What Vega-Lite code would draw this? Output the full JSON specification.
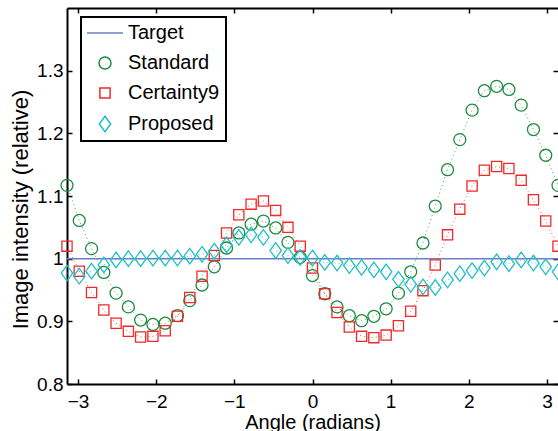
{
  "$schema": "https://vega.github.io/schema/vega-lite/v6.json",
  "width": 491,
  "height": 376,
  "autosize": {"type": "none"},
  "padding": {"left": 67, "top": 8, "right": 0, "bottom": 47},
  "background": "white",
  "config": {
    "font": "Liberation Sans",
    "view": {"stroke": null},
    "axis": {
      "domainColor": "black", "domainWidth": 2,
      "tickColor": "black", "tickWidth": 1.5, "tickSize": -5,
      "labelColor": "black", "labelFont": "Liberation Sans", "labelFontSize": 19,
      "titleFont": "Liberation Sans", "titleColor": "black", "titleFontWeight": "normal",
      "grid": false
    },
    "legend": {
      "orient": "none", "legendX": 14, "legendY": 9,
      "padding": 6, "strokeColor": "black", "strokeWidth": 2, "fillColor": "white",
      "labelFont": "Liberation Sans", "labelFontSize": 20, "labelColor": "black",
      "symbolStrokeWidth": 1.5, "symbolSize": 144, "symbolOffset": 8, "labelOffset": 13,
      "rowPadding": 10, "columns": 1, "titleFontSize": 0
    }
  },
  "datasets": {
    "d": [
      {"x": -3.14159, "series": "Target", "y": 1},
      {"x": 3.14159, "series": "Target", "y": 1},
      {"x": -3.1416, "series": "Standard", "y": 1.117},
      {"x": -2.9845, "series": "Standard", "y": 1.061},
      {"x": -2.8274, "series": "Standard", "y": 1.016},
      {"x": -2.6704, "series": "Standard", "y": 0.978},
      {"x": -2.5133, "series": "Standard", "y": 0.945},
      {"x": -2.3562, "series": "Standard", "y": 0.923},
      {"x": -2.1991, "series": "Standard", "y": 0.902},
      {"x": -2.042, "series": "Standard", "y": 0.895},
      {"x": -1.885, "series": "Standard", "y": 0.897},
      {"x": -1.7279, "series": "Standard", "y": 0.909},
      {"x": -1.5708, "series": "Standard", "y": 0.933},
      {"x": -1.4137, "series": "Standard", "y": 0.958},
      {"x": -1.2566, "series": "Standard", "y": 0.987},
      {"x": -1.0996, "series": "Standard", "y": 1.017},
      {"x": -0.9425, "series": "Standard", "y": 1.041},
      {"x": -0.7854, "series": "Standard", "y": 1.055},
      {"x": -0.6283, "series": "Standard", "y": 1.06},
      {"x": -0.4712, "series": "Standard", "y": 1.049},
      {"x": -0.3142, "series": "Standard", "y": 1.026},
      {"x": -0.1571, "series": "Standard", "y": 1.002},
      {"x": 0, "series": "Standard", "y": 0.973},
      {"x": 0.1571, "series": "Standard", "y": 0.944},
      {"x": 0.3142, "series": "Standard", "y": 0.923},
      {"x": 0.4712, "series": "Standard", "y": 0.909},
      {"x": 0.6283, "series": "Standard", "y": 0.901},
      {"x": 0.7854, "series": "Standard", "y": 0.908},
      {"x": 0.9425, "series": "Standard", "y": 0.92},
      {"x": 1.0996, "series": "Standard", "y": 0.945},
      {"x": 1.2566, "series": "Standard", "y": 0.979},
      {"x": 1.4137, "series": "Standard", "y": 1.025},
      {"x": 1.5708, "series": "Standard", "y": 1.084},
      {"x": 1.7279, "series": "Standard", "y": 1.142},
      {"x": 1.885, "series": "Standard", "y": 1.19},
      {"x": 2.042, "series": "Standard", "y": 1.237},
      {"x": 2.1991, "series": "Standard", "y": 1.268},
      {"x": 2.3562, "series": "Standard", "y": 1.275},
      {"x": 2.5133, "series": "Standard", "y": 1.27},
      {"x": 2.6704, "series": "Standard", "y": 1.245},
      {"x": 2.8274, "series": "Standard", "y": 1.206},
      {"x": 2.9845, "series": "Standard", "y": 1.165},
      {"x": 3.1416, "series": "Standard", "y": 1.117},
      {"x": -3.1416, "series": "Certainty9", "y": 1.02},
      {"x": -2.9845, "series": "Certainty9", "y": 0.98},
      {"x": -2.8274, "series": "Certainty9", "y": 0.946},
      {"x": -2.6704, "series": "Certainty9", "y": 0.918},
      {"x": -2.5133, "series": "Certainty9", "y": 0.897},
      {"x": -2.3562, "series": "Certainty9", "y": 0.884},
      {"x": -2.1991, "series": "Certainty9", "y": 0.875},
      {"x": -2.042, "series": "Certainty9", "y": 0.876},
      {"x": -1.885, "series": "Certainty9", "y": 0.885},
      {"x": -1.7279, "series": "Certainty9", "y": 0.908},
      {"x": -1.5708, "series": "Certainty9", "y": 0.938},
      {"x": -1.4137, "series": "Certainty9", "y": 0.972},
      {"x": -1.2566, "series": "Certainty9", "y": 1.005},
      {"x": -1.0996, "series": "Certainty9", "y": 1.041},
      {"x": -0.9425, "series": "Certainty9", "y": 1.07},
      {"x": -0.7854, "series": "Certainty9", "y": 1.087},
      {"x": -0.6283, "series": "Certainty9", "y": 1.092},
      {"x": -0.4712, "series": "Certainty9", "y": 1.077},
      {"x": -0.3142, "series": "Certainty9", "y": 1.05},
      {"x": -0.1571, "series": "Certainty9", "y": 1.02},
      {"x": 0, "series": "Certainty9", "y": 0.985},
      {"x": 0.1571, "series": "Certainty9", "y": 0.944},
      {"x": 0.3142, "series": "Certainty9", "y": 0.914},
      {"x": 0.4712, "series": "Certainty9", "y": 0.891},
      {"x": 0.6283, "series": "Certainty9", "y": 0.876},
      {"x": 0.7854, "series": "Certainty9", "y": 0.874},
      {"x": 0.9425, "series": "Certainty9", "y": 0.878},
      {"x": 1.0996, "series": "Certainty9", "y": 0.893},
      {"x": 1.2566, "series": "Certainty9", "y": 0.916},
      {"x": 1.4137, "series": "Certainty9", "y": 0.949},
      {"x": 1.5708, "series": "Certainty9", "y": 0.99},
      {"x": 1.7279, "series": "Certainty9", "y": 1.038},
      {"x": 1.885, "series": "Certainty9", "y": 1.079},
      {"x": 2.042, "series": "Certainty9", "y": 1.116},
      {"x": 2.1991, "series": "Certainty9", "y": 1.141},
      {"x": 2.3562, "series": "Certainty9", "y": 1.147},
      {"x": 2.5133, "series": "Certainty9", "y": 1.144},
      {"x": 2.6704, "series": "Certainty9", "y": 1.125},
      {"x": 2.8274, "series": "Certainty9", "y": 1.094},
      {"x": 2.9845, "series": "Certainty9", "y": 1.06},
      {"x": 3.1416, "series": "Certainty9", "y": 1.02},
      {"x": -3.1416, "series": "Proposed", "y": 0.977},
      {"x": -2.9845, "series": "Proposed", "y": 0.972},
      {"x": -2.8274, "series": "Proposed", "y": 0.98},
      {"x": -2.6704, "series": "Proposed", "y": 0.99},
      {"x": -2.5133, "series": "Proposed", "y": 0.998},
      {"x": -2.3562, "series": "Proposed", "y": 1.0},
      {"x": -2.1991, "series": "Proposed", "y": 1.0},
      {"x": -2.042, "series": "Proposed", "y": 1.001},
      {"x": -1.885, "series": "Proposed", "y": 1.001},
      {"x": -1.7279, "series": "Proposed", "y": 1.001},
      {"x": -1.5708, "series": "Proposed", "y": 1.004},
      {"x": -1.4137, "series": "Proposed", "y": 1.007},
      {"x": -1.2566, "series": "Proposed", "y": 1.012},
      {"x": -1.0996, "series": "Proposed", "y": 1.022},
      {"x": -0.9425, "series": "Proposed", "y": 1.034},
      {"x": -0.7854, "series": "Proposed", "y": 1.038},
      {"x": -0.6283, "series": "Proposed", "y": 1.034},
      {"x": -0.4712, "series": "Proposed", "y": 1.013},
      {"x": -0.3142, "series": "Proposed", "y": 1.005},
      {"x": -0.1571, "series": "Proposed", "y": 1.002},
      {"x": 0, "series": "Proposed", "y": 1.001},
      {"x": 0.1571, "series": "Proposed", "y": 0.994},
      {"x": 0.3142, "series": "Proposed", "y": 0.993},
      {"x": 0.4712, "series": "Proposed", "y": 0.989},
      {"x": 0.6283, "series": "Proposed", "y": 0.986},
      {"x": 0.7854, "series": "Proposed", "y": 0.982},
      {"x": 0.9425, "series": "Proposed", "y": 0.979},
      {"x": 1.0996, "series": "Proposed", "y": 0.967},
      {"x": 1.2566, "series": "Proposed", "y": 0.959},
      {"x": 1.4137, "series": "Proposed", "y": 0.955},
      {"x": 1.5708, "series": "Proposed", "y": 0.954},
      {"x": 1.7279, "series": "Proposed", "y": 0.966},
      {"x": 1.885, "series": "Proposed", "y": 0.976},
      {"x": 2.042, "series": "Proposed", "y": 0.981},
      {"x": 2.1991, "series": "Proposed", "y": 0.985},
      {"x": 2.3562, "series": "Proposed", "y": 0.995},
      {"x": 2.5133, "series": "Proposed", "y": 0.992},
      {"x": 2.6704, "series": "Proposed", "y": 0.998},
      {"x": 2.8274, "series": "Proposed", "y": 0.993},
      {"x": 2.9845, "series": "Proposed", "y": 0.987},
      {"x": 3.1416, "series": "Proposed", "y": 0.979}
    ]
  },
  "data": {"name": "d"},
  "layer": [
    {
      "transform": [{"filter": "datum.series === 'Target'"}],
      "mark": {"type": "line", "color": "#6b7fc6", "strokeWidth": 1.5},
      "encoding": {
        "x": {"field": "x", "type": "quantitative",
              "scale": {"domain": [-3.14159, 3.14159], "nice": false, "zero": false},
              "axis": {"orient": "top", "values": [-3, -2, -1, 0, 1, 2, 3], "labels": false, "title": null}},
        "y": {"field": "y", "type": "quantitative",
              "scale": {"domain": [0.8, 1.4], "nice": false, "zero": false},
              "axis": {"orient": "right", "values": [0.8, 0.9, 1, 1.1, 1.2, 1.3], "labels": false, "title": null, "domain": false}}
      }
    },
    {
      "transform": [{"filter": "datum.series !== 'Target'"}],
      "mark": {"type": "line", "strokeDash": [1, 3], "strokeWidth": 1, "opacity": 0.8},
      "encoding": {
        "x": {"field": "x", "type": "quantitative", "scale": {"domain": [-3.14159, 3.14159], "nice": false, "zero": false}, "axis": null},
        "y": {"field": "y", "type": "quantitative", "scale": {"domain": [0.8, 1.4], "nice": false, "zero": false}, "axis": null},
        "stroke": {"field": "series", "type": "nominal",
                   "scale": {"domain": ["Standard", "Certainty9", "Proposed"], "range": ["#1f8a3f", "#ee2a2a", "#22bfc4"]},
                   "legend": null}
      }
    },
    {
      "transform": [{"filter": "datum.series !== 'Target'"}],
      "mark": {"type": "point", "filled": false, "strokeWidth": 1.3, "size": 144, "opacity": 1},
      "encoding": {
        "x": {"field": "x", "type": "quantitative",
              "scale": {"domain": [-3.14159, 3.14159], "nice": false, "zero": false},
              "axis": {"orient": "bottom", "values": [-3, -2, -1, 0, 1, 2, 3], "labelPadding": 13,
                       "title": "Angle (radians)", "titleFontSize": 20, "titleBaseline": "alphabetic", "titleY": 44}},
        "y": {"field": "y", "type": "quantitative",
              "scale": {"domain": [0.8, 1.4], "nice": false, "zero": false},
              "axis": {"orient": "left", "values": [0.8, 0.9, 1, 1.1, 1.2, 1.3], "labelPadding": 9, "format": "~g",
                       "title": "Image intensity (relative)", "titleFontSize": 22, "titleBaseline": "alphabetic",
                       "titleX": -40, "titleY": 201, "titleAngle": 270, "titleAlign": "center"}},
        "color": {"field": "series", "type": "nominal",
                  "scale": {"domain": ["Target", "Standard", "Certainty9", "Proposed"], "range": ["#6b7fc6", "#1f8a3f", "#ee2a2a", "#22bfc4"]},
                  "legend": {"title": null, "labelExpr": "datum.label + '\u00a0\u00a0\u00a0'"}},
        "shape": {"field": "series", "type": "nominal",
                  "scale": {"domain": ["Target", "Standard", "Certainty9", "Proposed"],
                            "range": ["M-3,0L3,0", "circle", "M-0.85,-0.85H0.85V0.85H-0.85Z", "M0,-1.3L0.95,0L0,1.3L-0.95,0Z"]},
                  "legend": {"title": null, "labelExpr": "datum.label + '\u00a0\u00a0\u00a0'"}}
      }
    }
  ],
  "resolve": {"axis": {"x": "independent", "y": "independent"}}
}
